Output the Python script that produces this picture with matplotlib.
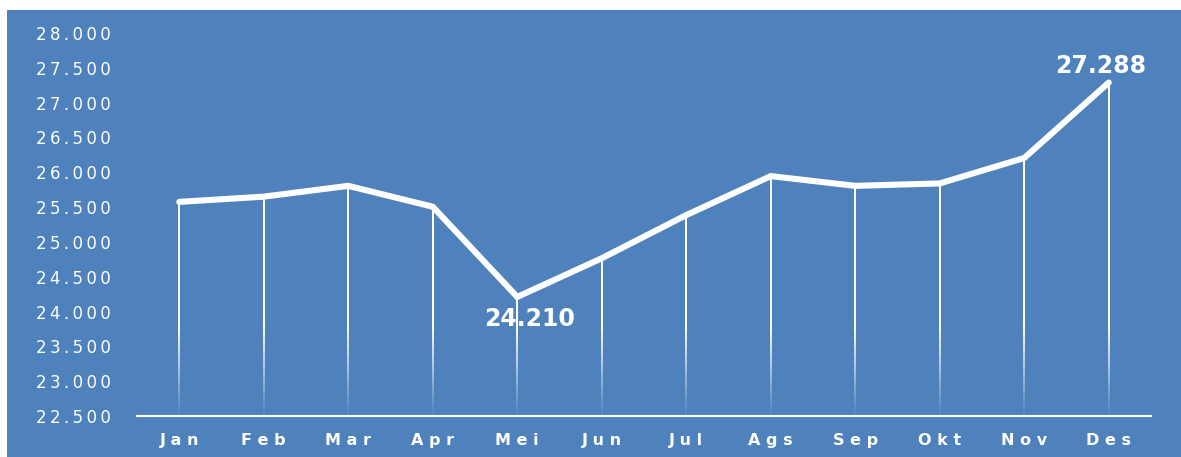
import numpy as np
import matplotlib.pyplot as plt
from matplotlib.patches import Rectangle

months = ["Jan", "Feb", "Mar", "Apr", "Mei", "Jun",
          "Jul", "Ags", "Sep", "Okt", "Nov", "Des"]
values = [25575, 25650, 25805, 25505, 24210, 24765,
          25385, 25945, 25805, 25840, 26205, 27288]
y_ticks = [22500, 23000, 23500, 24000, 24500, 25000,
           25500, 26000, 26500, 27000, 27500, 28000]

BLUE = "#4F81BD"
W, H = 1181, 457


def fmt(v):
    return f"{v:,}".replace(",", ".")


fig = plt.figure(figsize=(W / 100, H / 100), dpi=100, facecolor="white")

# blue chart area (white strip on top / left)
fig.patches.append(Rectangle((7 / W, 0), 1 - 7 / W, 1 - 10 / H,
                             transform=fig.transFigure, facecolor=BLUE,
                             edgecolor="none", zorder=-10))

ax = fig.add_axes([137 / W, 41 / H, (1151 - 137) / W, (416 - 33) / H])
ax.set_facecolor("none")
ax.set_zorder(5)

x = np.arange(len(months))
ymin, ymax = 22500, 28000

# ------------------------------------------------------------
# drop lines, white fading towards the axis
# ------------------------------------------------------------
half_w = 1.0 / 84.5   # ~2 px wide
for xi, v in zip(x, values):
    ys = np.linspace(ymin, v, 200)
    alpha = np.clip((ys - ymin) / 1300.0, 0.08, 1.0)
    img = np.ones((len(ys), 1, 4))
    img[:, 0, 3] = alpha
    ax.imshow(img, extent=[xi - half_w, xi + half_w, ymin, v],
              origin="lower", aspect="auto", interpolation="bilinear",
              zorder=2)

# main line
ax.plot(x, values, color="white", lw=4.4, solid_capstyle="round",
        solid_joinstyle="miter", zorder=3)

# data labels
i_min = int(np.argmin(values))
i_max = int(np.argmax(values))
ax.annotate(fmt(values[i_min]), (x[i_min], values[i_min]),
            xytext=(9, -7), textcoords="offset points", ha="center", va="top",
            color="white", fontsize=17, fontweight="bold")
ax.annotate(fmt(values[i_max]), (x[i_max], values[i_max]),
            xytext=(-6, 3), textcoords="offset points", ha="center", va="bottom",
            color="white", fontsize=17, fontweight="bold")

# ------------------------------------------------------------
# axes
# ------------------------------------------------------------
ax.set_xlim(-0.5, len(months) - 0.5)
ax.set_ylim(ymin, ymax)
ax.set_yticks(y_ticks)
ax.set_yticklabels(["\u2009".join(fmt(t)) for t in y_ticks],
                   color="white", fontsize=12)
ax.set_xticks(x)
ax.set_xticklabels([" ".join(m) for m in months], color="white",
                   fontsize=11.5, fontweight="bold")
ax.tick_params(axis="both", length=0)
ax.tick_params(axis="y", pad=19)
ax.tick_params(axis="x", pad=12)

for s in ["top", "right", "left"]:
    ax.spines[s].set_visible(False)
ax.spines["bottom"].set_color("white")
ax.spines["bottom"].set_linewidth(1.5)

fig.savefig("out.png", dpi=100, facecolor="white")
